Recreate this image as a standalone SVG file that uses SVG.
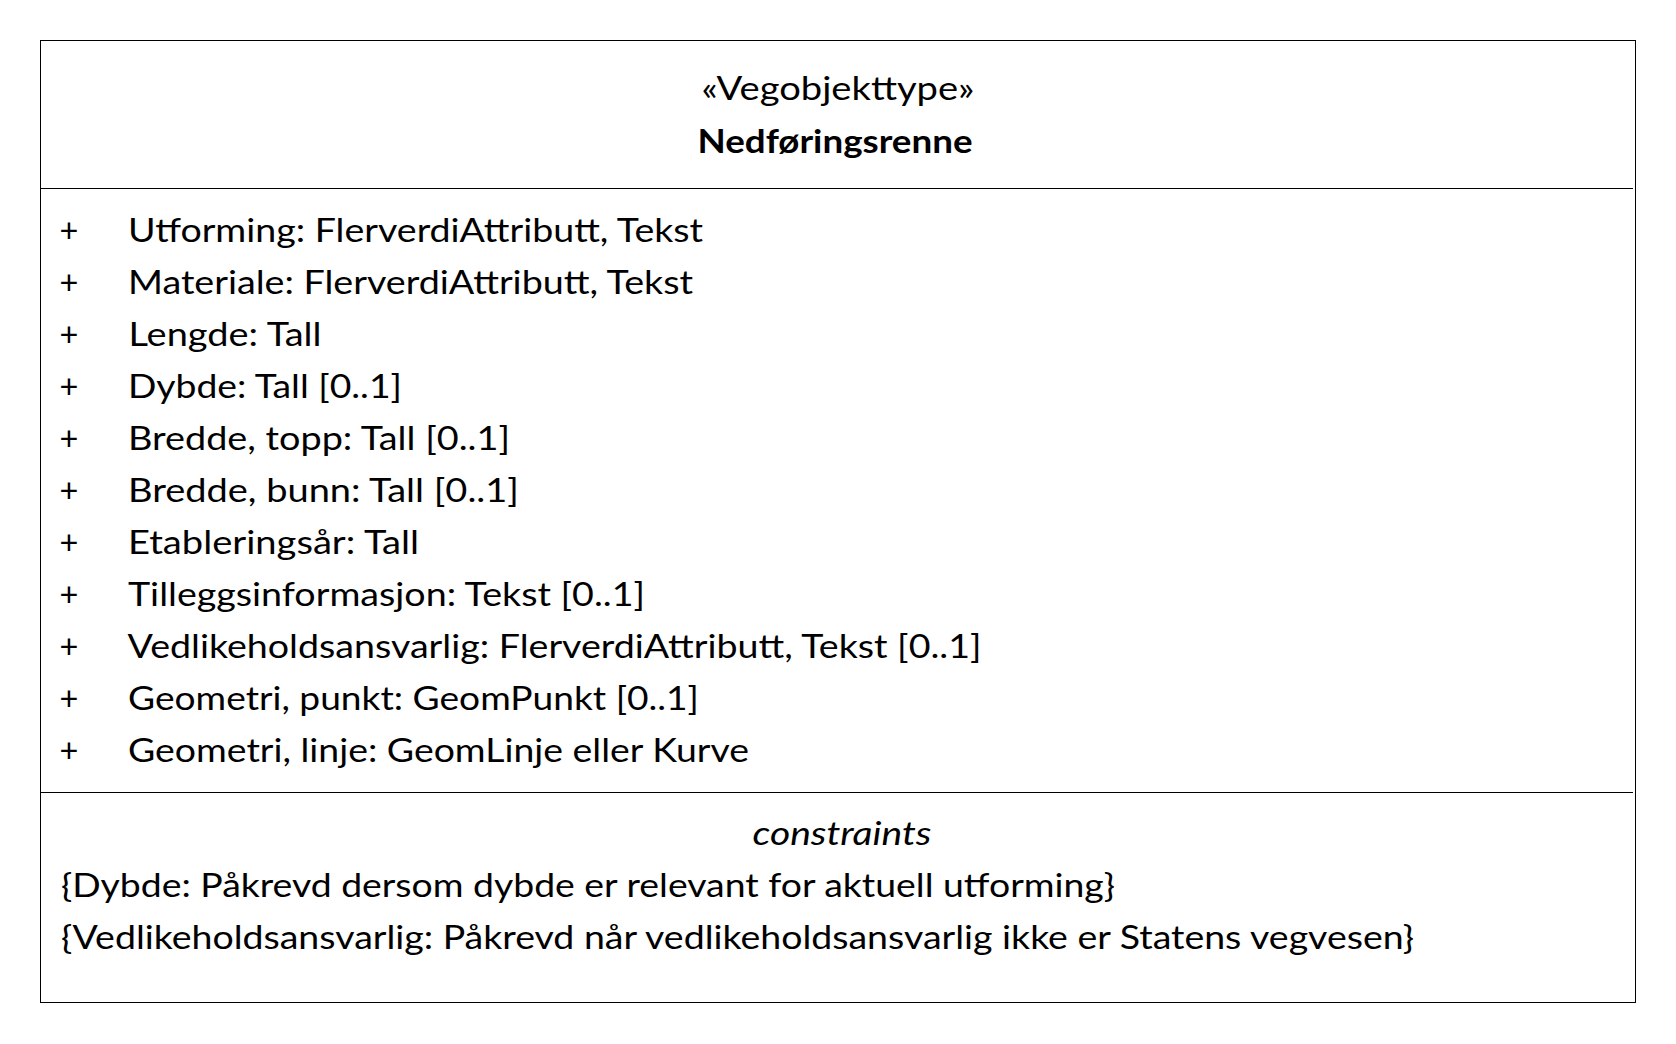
<svg xmlns="http://www.w3.org/2000/svg" width="1676" height="1044" viewBox="0 0 1676 1044">
  <style>
    .frame { fill: #ffffff; stroke: #000000; stroke-width: 1; }
    .rule { stroke: #000000; stroke-width: 1; fill: none; }
    .t { font-family: Lato, "Open Sans", "Liberation Sans", sans-serif; font-size: 32.5px; fill: #000000; }
    .bold { font-weight: bold; }
    .ital { font-style: italic; }
    .mid { text-anchor: middle; }
  </style>
  <rect width="1676" height="1044" fill="#ffffff"/>

  <!-- UML class: Nedføringsrenne -->
  <g id="class-nedforingsrenne">
    <rect class="frame" x="40.5" y="40.5" width="1595" height="962"/>
    <line class="rule" x1="40.5" y1="188.5" x2="1633" y2="188.5"/>
    <line class="rule" x1="40.5" y1="792.5" x2="1633" y2="792.5"/>

    <!-- name compartment -->
    <text class="t mid" x="838" y="100" textLength="273" lengthAdjust="spacingAndGlyphs">«Vegobjekttype»</text>
    <text class="t bold mid" x="835" y="153" textLength="275" lengthAdjust="spacingAndGlyphs">Nedføringsrenne</text>

    <!-- attribute compartment -->
    <g id="attributes">
      <text class="t mid" x="69" y="241.5">+</text>
      <text class="t" x="128" y="241.5" textLength="575" lengthAdjust="spacingAndGlyphs">Utforming: FlerverdiAttributt, Tekst</text>
      <text class="t mid" x="69" y="293.5">+</text>
      <text class="t" x="128" y="293.5" textLength="565" lengthAdjust="spacingAndGlyphs">Materiale: FlerverdiAttributt, Tekst</text>
      <text class="t mid" x="69" y="345.5">+</text>
      <text class="t" x="128.5" y="345.5" textLength="193" lengthAdjust="spacingAndGlyphs">Lengde: Tall</text>
      <text class="t mid" x="69" y="397.5">+</text>
      <text class="t" x="128" y="397.5" textLength="274" lengthAdjust="spacingAndGlyphs">Dybde: Tall [0..1]</text>
      <text class="t mid" x="69" y="449.5">+</text>
      <text class="t" x="128" y="449.5" textLength="382" lengthAdjust="spacingAndGlyphs">Bredde, topp: Tall [0..1]</text>
      <text class="t mid" x="69" y="501.5">+</text>
      <text class="t" x="128" y="501.5" textLength="391" lengthAdjust="spacingAndGlyphs">Bredde, bunn: Tall [0..1]</text>
      <text class="t mid" x="69" y="553.5">+</text>
      <text class="t" x="128" y="553.5" textLength="291" lengthAdjust="spacingAndGlyphs">Etableringsår: Tall</text>
      <text class="t mid" x="69" y="605.5">+</text>
      <text class="t" x="128" y="605.5" textLength="517" lengthAdjust="spacingAndGlyphs">Tilleggsinformasjon: Tekst [0..1]</text>
      <text class="t mid" x="69" y="657.5">+</text>
      <text class="t" x="127.5" y="657.5" textLength="854" lengthAdjust="spacingAndGlyphs">Vedlikeholdsansvarlig: FlerverdiAttributt, Tekst [0..1]</text>
      <text class="t mid" x="69" y="709.5">+</text>
      <text class="t" x="128" y="709.5" textLength="571" lengthAdjust="spacingAndGlyphs">Geometri, punkt: GeomPunkt [0..1]</text>
      <text class="t mid" x="69" y="761.5">+</text>
      <text class="t" x="128" y="761.5" textLength="621" lengthAdjust="spacingAndGlyphs">Geometri, linje: GeomLinje eller Kurve</text>
    </g>

    <!-- constraint compartment -->
    <g id="constraints">
      <text class="t ital mid" x="842" y="845" textLength="179" lengthAdjust="spacingAndGlyphs">constraints</text>
      <text class="t" x="61" y="896.5" textLength="1054" lengthAdjust="spacingAndGlyphs">{Dybde: Påkrevd dersom dybde er relevant for aktuell utforming}</text>
      <text class="t" x="61" y="948.5" textLength="1353" lengthAdjust="spacingAndGlyphs">{Vedlikeholdsansvarlig: Påkrevd når vedlikeholdsansvarlig ikke er Statens vegvesen}</text>
    </g>
  </g>
</svg>
